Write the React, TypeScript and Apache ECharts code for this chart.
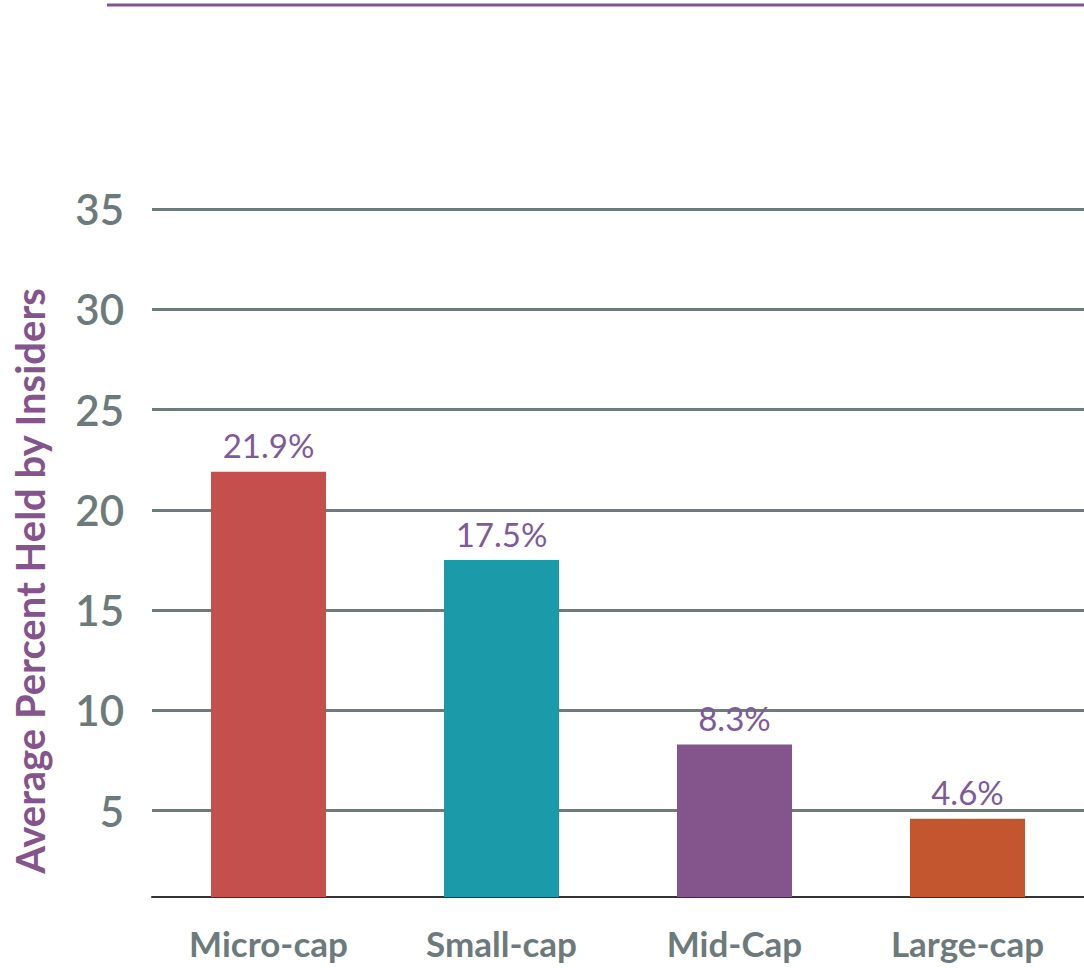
import React, { useEffect, useRef } from "react";
import * as echarts from "echarts";

const categories = ["Micro-cap", "Small-cap", "Mid-Cap", "Large-cap"];
const values = [21.9, 17.5, 8.3, 4.6];
const barColors = ["#C44F4C", "#1B9AAA", "#84548C", "#C4562F"];
const yTicks = [5, 10, 15, 20, 25, 30, 35];
const yTitle = "Average Percent Held by Insiders";

export default function App() {
  const ref = useRef<HTMLDivElement>(null);
  useEffect(() => {
    if (!ref.current) return;
    const chart = echarts.init(ref.current, null, { renderer: "svg" });
    const font = "Lato, 'Open Sans', sans-serif";
    chart.setOption({
      animation: false,
      grid: { left: 152, right: 0, top: 209, bottom: 71, containLabel: false },
      xAxis: {
        type: "category",
        data: categories,
        axisLine: { show: true, lineStyle: { color: "#333", width: 2 } },
        axisTick: { show: false },
        axisLabel: {
          margin: 28,
          color: "#6D7A7C",
          fontSize: 35,
          fontWeight: "bold",
          fontFamily: font,
        },
      },
      yAxis: {
        type: "value",
        min: 0.7,
        max: 35,
        axisLine: { show: false },
        axisTick: { show: false, customValues: yTicks },
        axisLabel: {
          customValues: yTicks,
          margin: 28,
          color: "#6D7A7C",
          fontSize: 42,
          fontWeight: 600,
          fontFamily: font,
        },
        splitLine: { show: true, lineStyle: { color: "#6E7B7C", width: 3 } },
      },
      series: [
        {
          type: "bar",
          data: values.map((v, i) => ({ value: v, itemStyle: { color: barColors[i] } })),
          barWidth: 115,
          label: {
            show: true,
            position: "top",
            distance: 10,
            formatter: "{c}%",
            color: "#7E5A9B",
            fontSize: 33,
            fontFamily: font,
          },
        },
      ],
      graphic: [
        {
          type: "line",
          shape: { x1: 107, y1: 5, x2: 1084, y2: 5 },
          style: { stroke: "#84548C", lineWidth: 3 },
        },
        {
          type: "text",
          x: 30,
          y: 581,
          rotation: Math.PI / 2,
          style: {
            text: yTitle,
            fill: "#84548C",
            fontSize: 40,
            fontWeight: "bold",
            fontFamily: font,
            align: "center",
            verticalAlign: "middle",
          },
        },
      ],
    });
    return () => chart.dispose();
  }, []);
  return (
    <div
      ref={ref}
      style={{ position: "absolute", left: 0, top: 0, width: 1084, height: 968 }}
    />
  );
}
